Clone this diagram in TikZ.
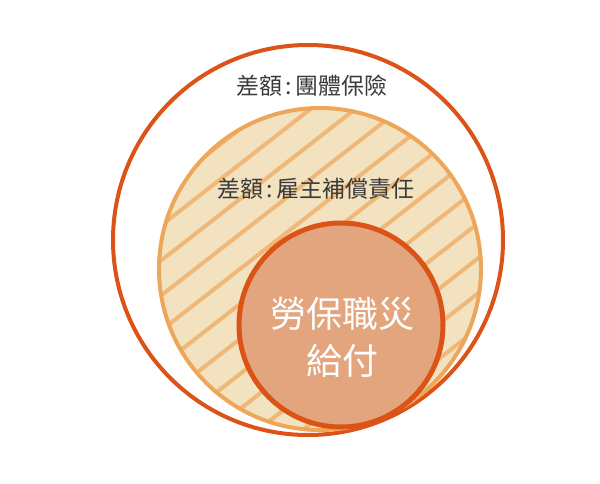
\documentclass[tikz,border=0pt]{standalone}
\usepackage{fontspec}
\newfontfamily\cjk{Noto Sans CJK TC}
\usetikzlibrary{positioning}
\definecolor{rojo}{HTML}{DB5317}
\definecolor{naranja}{HTML}{EEA65B}
\definecolor{crema}{HTML}{F3E2BF}
\definecolor{raya}{HTML}{EFB878}
\definecolor{salmon}{HTML}{E2A57E}
\definecolor{gris}{HTML}{3A3A3A}
\newcommand{\dospuntos}{\hspace{3.5pt}:\hspace{3.5pt}}

\begin{document}
\begin{tikzpicture}[x=1pt, y=-1pt, every node/.style={inner sep=0pt, outer sep=0pt}]
            \useasboundingbox (0,0) rectangle (600,483);
            % Circulos
            \node[draw=rojo, line width=4pt, circle, minimum size=390pt] (grupo) at (308,240) {};
            \node[fill=crema, circle, minimum size=322pt] (patrono) at (320,269) {};
            \begin{scope}
              \clip (320,269) circle (161pt);
              \foreach \k in {-8,...,5}
                \draw[raya, line width=4pt] (40,{530+35*\k}) -- (840,{-94+35*\k});
            \end{scope}
            \node[draw=naranja, line width=4pt, circle, minimum size=322pt] (borde) at (320,269) {};
            \node[draw=rojo, fill=salmon, line width=5pt, circle, minimum size=204pt] (laboral) at (341,325) {};
            
            % Textos
            \node[text=gris, font=\cjk\fontsize{23}{27}\selectfont] (t1) at (312,86) {差額\dospuntos 團體保險};
            \node[text=gris, font=\cjk\fontsize{23}{27}\selectfont] (t2) at (316,189) {差額\dospuntos 雇主補償責任};
            \node[text=white, align=center, font=\cjk\fontsize{36}{47}\selectfont] (t3) at (342,337) {勞保職災\\給付};
          \end{tikzpicture}
\end{document}
